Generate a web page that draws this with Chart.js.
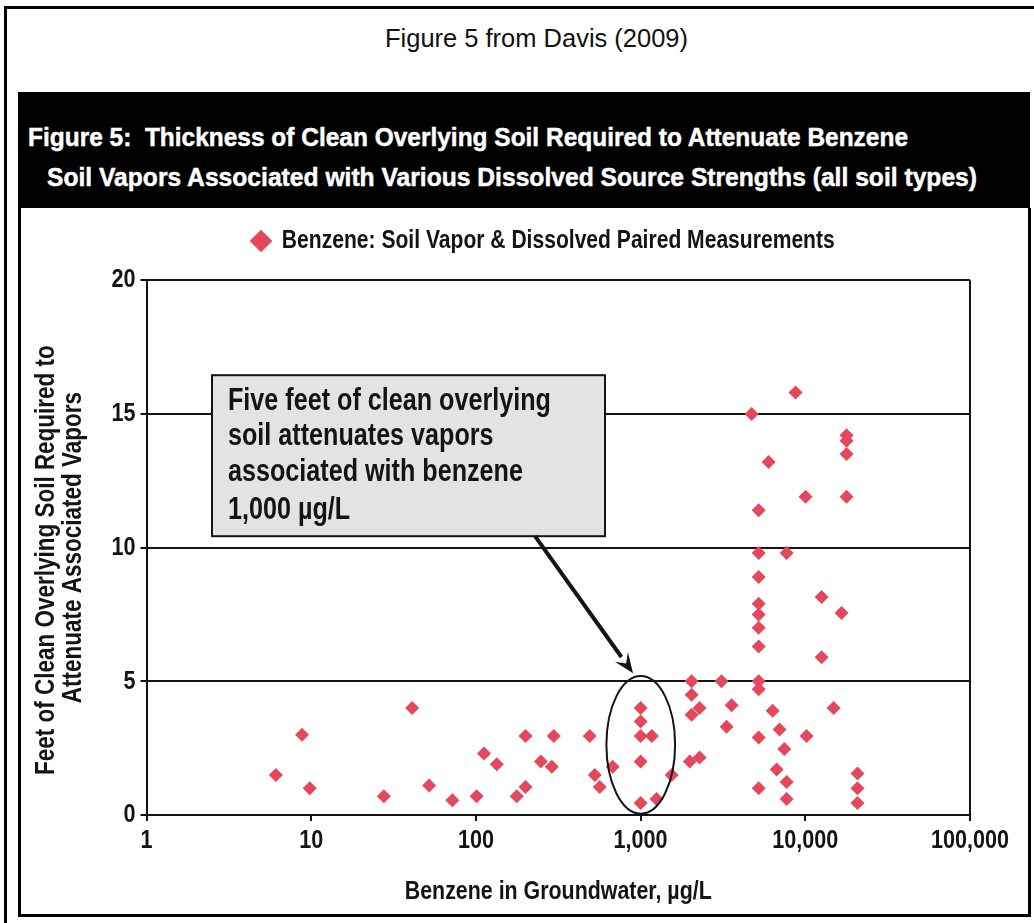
<!DOCTYPE html>
<html>
<head>
<meta charset="utf-8">
<script src="https://cdn.jsdelivr.net/npm/chart.js@4.4.1/dist/chart.umd.min.js"></script>
<style>
  html, body { margin: 0; padding: 0; background: #fff; width: 1034px; height: 923px; overflow: hidden; }
  #frame { position: absolute; left: 4px; top: 6px; width: 1100px; height: 1000px;
           border-left: 3px solid #000; border-top: 3px solid #000; }
  #caption { position: absolute; top: 23px; left: 385px; line-height: 30px; font-size: 25px;
             font-family: "Liberation Sans", Arial, sans-serif; color: #111; white-space: pre;
             transform-origin: 0 50%; display: inline-block; }
  #header { position: absolute; left: 18px; top: 92px; width: 1012px; height: 116px; background: #000; }
  .hl { position: absolute; color: #fff; font-weight: bold; white-space: pre; line-height: 30px;
        transform-origin: 0 50%; display: inline-block; -webkit-text-stroke: 0.5px #fff; }
  #panel { position: absolute; left: 18px; top: 208px; width: 1007px; height: 706px;
           border: 3px solid #000; border-top: none; background: #fff; }
  #chart { position: absolute; left: 0; top: 0; }
</style>
</head>
<body>
<div id="frame"></div>
<div id="caption">Figure 5 from Davis (2009)</div>
<div id="header">
  <div class="hl" id="h1" style="left:10px; top:30px;">Figure 5:  Thickness of Clean Overlying Soil Required to Attenuate Benzene</div>
  <div class="hl" id="h2" style="left:29px; top:70px;">Soil Vapors Associated with Various Dissolved Source Strengths (all soil types)</div>
</div>
<div id="panel"><canvas id="chart" width="1004" height="706"></canvas></div>

<script>
// Benzene concentration in groundwater (µg/L) paired with the soil thickness (ft)
const benzeneUgL = [
  6.1, 8.8, 9.8, 27.6, 41, 52, 72, 101, 112, 134,
  177, 200, 200, 248, 289, 297, 491, 527, 565, 677,
  1000, 1000, 1000, 1170, 1000, 1000, 1250, 1545,
  2040, 2040, 2280, 2040, 3100, 3570, 3330, 1990, 2280,
  8730, 4720, 17800, 17800, 17800, 5990, 10040, 17800, 5210,
  5210, 7700, 5210, 5210, 5210, 5210, 5210, 12560, 16600, 12560,
  5210, 5210, 6340, 6980, 5210, 10180, 14860, 7460, 6700, 7700,
  5210, 7700, 20750, 20750, 20750
];
const soilFeet = [
  1.5, 3.0, 1.0, 0.7, 4.0, 1.1, 0.55, 0.7, 2.3, 1.9,
  0.7, 1.05, 2.95, 2.0, 1.8, 2.95, 2.95, 1.5, 1.05, 1.8,
  4.0, 3.5, 2.95, 2.95, 2.0, 0.45, 0.6, 1.5,
  5.0, 4.5, 4.0, 3.75, 5.0, 4.1, 3.3, 2.0, 2.15,
  15.8, 15.0, 14.2, 14.0, 13.5, 13.2, 11.9, 11.9, 11.4,
  9.8, 9.8, 8.9, 7.9, 7.5, 7.0, 6.3, 8.15, 7.55, 5.9,
  5.0, 4.7, 3.9, 3.2, 2.9, 2.95, 4.0, 2.47, 1.7, 1.23,
  1.0, 0.6, 1.55, 1.0, 0.45
];
const seriesName = 'Benzene: Soil Vapor & Dissolved Paired Measurements';
const xTickValues = [1, 10, 100, 1000, 10000, 100000];
const xTickLabels = ['1', '10', '100', '1,000', '10,000', '100,000'];
const yTickValues = [0, 5, 10, 15, 20];
const xAxisTitle = 'Benzene in Groundwater, µg/L';
const yAxisTitle = ['Feet of Clean Overlying Soil Required to', 'Attenuate Associated Vapors'];
const calloutLines = ['Five feet of clean overlying', 'soil attenuates vapors', 'associated with benzene', '1,000 µg/L'];

// ---- condensed type ------------------------------------------------------
// Canvas text is set in Liberation Sans and squeezed horizontally to a
// condensed face; measuring is squeezed the same way so layout stays right.
const FAMILY = '"Liberation Sans", Arial, sans-serif';
const CONDENSE = 0.82;
const probe = document.createElement('canvas').getContext('2d');
function fitSize(text, width) {
  probe.font = 'bold 100px ' + FAMILY;
  return +(100 * width / (probe.measureText(text).width * CONDENSE)).toFixed(2);
}
function condenseContext(ctx) {
  const rawFill = ctx.fillText.bind(ctx);
  const rawMeasure = ctx.measureText.bind(ctx);
  ctx.fillText = function (text, x, y, maxWidth) {
    this.save();
    this.translate(x, y);
    this.scale(CONDENSE, 1);
    if (maxWidth !== undefined && maxWidth !== null) rawFill(text, 0, 0, maxWidth / CONDENSE);
    else rawFill(text, 0, 0);
    this.restore();
  };
  ctx.measureText = function (text) {
    const m = rawMeasure(text);
    return {
      width: m.width * CONDENSE,
      actualBoundingBoxLeft: m.actualBoundingBoxLeft * CONDENSE,
      actualBoundingBoxRight: m.actualBoundingBoxRight * CONDENSE,
      actualBoundingBoxAscent: m.actualBoundingBoxAscent,
      actualBoundingBoxDescent: m.actualBoundingBoxDescent,
      fontBoundingBoxAscent: m.fontBoundingBoxAscent,
      fontBoundingBoxDescent: m.fontBoundingBoxDescent
    };
  };
}

// ---- header text (stretched to its line length) --------------------------
function fitHtml(el, family, size, width) {
  el.style.fontFamily = family;
  el.style.fontSize = size + 'px';
  const w = el.getBoundingClientRect().width;
  el.style.transform = 'scaleX(' + (width / w).toFixed(4) + ')';
}
fitHtml(document.getElementById('h1'), FAMILY, 26.5, 880);
fitHtml(document.getElementById('h2'), FAMILY, 26.5, 930);
fitHtml(document.getElementById('caption'), FAMILY, 25, 303);

const legendSize = fitSize(seriesName, 553);
const tickSize = fitSize('1,000', 54);
const xTitleSize = fitSize(xAxisTitle, 307);
const yTitleSize = fitSize(yAxisTitle[0], 430);
const calloutSize = fitSize(calloutLines[0], 323);
const ink = '#141414';
const markColor = '#e5475c';

// the first title line sits a little lower than the second one
const yTitleText = [yAxisTitle[0] + '    ', yAxisTitle[1]];

// ---- annotation: circled group, arrow and callout box ---------------------
const annotate = {
  id: 'annotate',
  afterLayout(chart) {
    // place the legend entry: marker centre at x = 240, text centre at y = 33
    const lg = chart.legend;
    if (!lg || !lg.lineWidths) return;
    const pad = lg.options.labels.padding;
    const start = (lg.left + pad + lg.right - lg.lineWidths[0]) / 2;
    const dx = 232 - start;
    const fs = lg.options.labels.font.size;
    const dy = 33 - (lg.top + pad + fs / 2);
    lg.left += dx; lg.right += dx;
    lg.top += dy; lg.bottom += dy;
  },
  afterDatasetsDraw(chart) {
    const {ctx, chartArea: a, scales: {x, y}} = chart;
    ctx.save();
    // ellipse around the 1,000 µg/L measurements
    const ex0 = x.getPixelForValue(620), ex1 = x.getPixelForValue(1620);
    const ey0 = y.getPixelForValue(5.2), ey1 = y.getPixelForValue(0.05);
    ctx.beginPath();
    ctx.ellipse((ex0 + ex1) / 2, (ey0 + ey1) / 2, (ex1 - ex0) / 2, (ey1 - ey0) / 2, 0, 0, Math.PI * 2);
    ctx.lineWidth = 2;
    ctx.strokeStyle = ink;
    ctx.stroke();

    // callout box
    const bx = a.left + 65.5, by = a.top + 95, bw = 393, bh = 161;
    ctx.fillStyle = '#e3e3e3';
    ctx.fillRect(bx, by, bw, bh);
    ctx.lineWidth = 2;
    ctx.strokeStyle = ink;
    ctx.strokeRect(bx, by, bw, bh);
    ctx.fillStyle = ink;
    ctx.textBaseline = 'alphabetic';
    ctx.textAlign = 'left';
    ctx.font = 'bold ' + calloutSize + 'px ' + FAMILY;
    const base = [35, 70, 106, 144];
    calloutLines.forEach((t, i) => ctx.fillText(t, bx + 16, by + base[i]));

    // arrow from the box to the circled group
    const sx = bx + 323, sy = by + bh;
    const tx = x.getPixelForValue(900), ty = y.getPixelForValue(5.3);
    const ang = Math.atan2(ty - sy, tx - sx);
    const hl = 20, hw = 8;
    const bxh = tx - hl * Math.cos(ang), byh = ty - hl * Math.sin(ang);
    ctx.beginPath();
    ctx.moveTo(sx, sy);
    ctx.lineTo(bxh, byh);
    ctx.lineWidth = 4;
    ctx.stroke();
    ctx.beginPath();
    ctx.moveTo(tx, ty);
    ctx.lineTo(bxh + hw * Math.sin(ang), byh - hw * Math.cos(ang));
    ctx.lineTo(tx - 12 * Math.cos(ang), ty - 12 * Math.sin(ang));
    ctx.lineTo(bxh - hw * Math.sin(ang), byh + hw * Math.cos(ang));
    ctx.closePath();
    ctx.fill();
    ctx.restore();
  }
};

const points = benzeneUgL.map((v, i) => ({x: v, y: soilFeet[i]}));
const canvas = document.getElementById('chart');
condenseContext(canvas.getContext('2d'));

new Chart(canvas, {
  type: 'scatter',
  data: {
    datasets: [{
      label: seriesName,
      data: points,
      pointStyle: 'rectRot',
      pointRadius: 7,
      pointHoverRadius: 7,
      backgroundColor: markColor,
      borderColor: markColor,
      borderWidth: 0
    }]
  },
  options: {
    responsive: false,
    animation: false,
    devicePixelRatio: 1,
    layout: {padding: {top: 22.5, right: 55, bottom: 0, left: 0}},
    plugins: {
      legend: {
        position: 'top',
        labels: {
          usePointStyle: true,
          pointStyle: 'rectRot',
          boxWidth: 16,
          boxHeight: 16,
          padding: 14,
          color: ink,
          font: {family: FAMILY, size: legendSize, weight: 'bold'}
        }
      },
      tooltip: {enabled: false}
    },
    scales: {
      x: {
        type: 'logarithmic',
        min: 1,
        max: 100000,
        afterBuildTicks(s) { s.ticks = xTickValues.map(v => ({value: v})); },
        afterFit(s) { s.height = 99; },
        ticks: {
          autoSkip: false, maxRotation: 0, padding: 4, color: ink,
          font: {family: FAMILY, size: tickSize, weight: 'bold'},
          callback: v => xTickLabels[xTickValues.indexOf(v)]
        },
        grid: {
          color: c => (c.tick && c.tick.value === 100000 ? ink : 'rgba(0,0,0,0)'),
          tickColor: ink, lineWidth: 2, tickLength: 6
        },
        border: {color: ink, width: 2},
        title: {
          display: true, text: xAxisTitle, color: ink,
          font: {family: FAMILY, size: xTitleSize, weight: 'bold', lineHeight: 1.1},
          padding: {top: 0, bottom: 8}
        }
      },
      y: {
        min: 0,
        max: 20,
        afterBuildTicks(s) { s.ticks = yTickValues.map(v => ({value: v})); },
        afterFit(s) { s.width = 125.5; },
        ticks: {
          padding: 5, color: ink,
          font: {family: FAMILY, size: tickSize, weight: 'bold'}
        },
        grid: {color: ink, tickColor: ink, lineWidth: 2, tickLength: 6},
        border: {color: ink, width: 2},
        title: {
          display: true, text: yTitleText, color: ink,
          font: {family: FAMILY, size: yTitleSize, weight: 'bold', lineHeight: 27 / yTitleSize},
          padding: {top: 11.5, bottom: 0}
        }
      }
    }
  },
  plugins: [annotate]
});
</script>
</body>
</html>
